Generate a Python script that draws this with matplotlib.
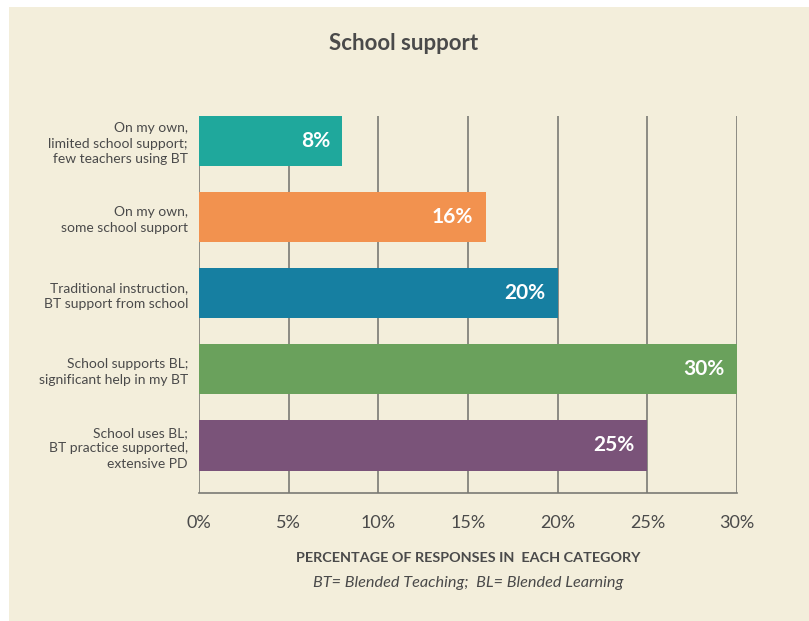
import matplotlib.pyplot as plt
from matplotlib.patches import Rectangle

plt.rcParams['font.family'] = ['Lato', 'DejaVu Sans']

categories = [
    "On my own,\nlimited school support;\nfew teachers using BT",
    "On my own,\nsome school support",
    "Traditional instruction,\nBT support from school",
    "School supports BL;\nsignificant help in my BT",
    "School uses BL;\nBT practice supported,\nextensive PD",
]
values = [8, 16, 20, 30, 25]
colors = ["#1fa89c", "#f2924f", "#167fa1", "#6aa15c", "#7a5379"]
xticks = [0, 5, 10, 15, 20, 25, 30]

bg = "#f3eedb"
text_col = "#4a4a4a"
grid_col = "#7a7a74"

fig = plt.figure(figsize=(8.09, 6.21), dpi=100, facecolor="white")
# beige panel behind the chart
fig.patches.append(Rectangle((9 / 809, 0), 1, 1 - 7 / 621, transform=fig.transFigure,
                             facecolor=bg, edgecolor="none", zorder=-10))

ax = fig.add_axes([199 / 809, 128 / 621, 538 / 809, 377 / 621])
ax.set_facecolor(bg)

ypos = list(range(len(categories)))
ax.barh(ypos, values, height=0.66, color=colors, zorder=3)
for y, v in zip(ypos, values):
    ax.annotate(f"{v}%", xy=(v, y), xytext=(-9, 0), textcoords="offset points",
                ha="right", va="center", color="white", fontsize=15,
                fontweight="bold", zorder=4)

ax.set_xlim(0, 30)
ax.set_ylim(4.625, -0.33)
ax.set_xticks(xticks)
ax.set_xticklabels([f"{t}%" for t in xticks], fontsize=13, color=text_col)
ax.set_yticks(ypos)
ax.set_yticklabels(categories, fontsize=10, color=text_col, linespacing=1.35)
ax.tick_params(axis="both", length=0)
ax.tick_params(axis="x", pad=16)
ax.tick_params(axis="y", pad=8)

ax.grid(axis="x", color=grid_col, linewidth=1.2, zorder=0)
for s in ["top", "right", "left"]:
    ax.spines[s].set_visible(False)
ax.spines["bottom"].set_color(grid_col)
ax.spines["bottom"].set_linewidth(1.2)

fig.text(404 / 809, 1 - 43 / 621, "School support", ha="center", va="center",
         fontsize=16, fontweight="bold", color=text_col)
fig.text(468 / 809, 1 - 558 / 621, "PERCENTAGE OF RESPONSES IN  EACH CATEGORY",
         ha="center", va="center", fontsize=10.4, fontweight="bold", color=text_col)
fig.text(468 / 809, 1 - 583 / 621, "BT= Blended Teaching;  BL= Blended Learning",
         ha="center", va="center", fontsize=11.7, style="italic", color=text_col)

fig.savefig("out.png", dpi=100, facecolor=fig.get_facecolor())
